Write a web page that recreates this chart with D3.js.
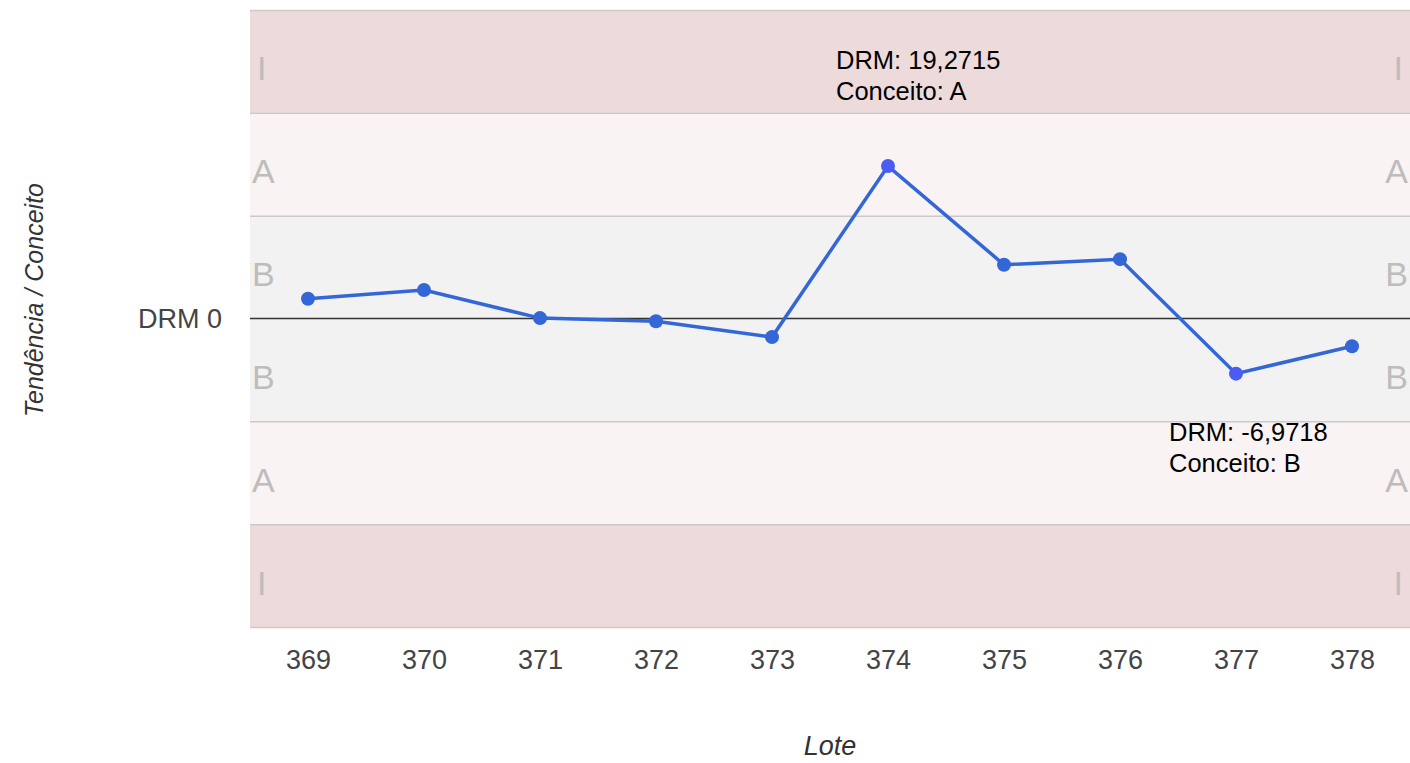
<!DOCTYPE html>
<html>
<head>
<meta charset="utf-8">
<script src="https://d3js.org/d3.v7.min.js"></script>
<style>
    body { margin: 0; background: #fff; }
    svg { font-family: 'Liberation Sans', Arial, sans-serif; }
</style>
</head>
<body>
<svg id="chart" width="1410" height="763"></svg>
<script>
// lots and DRM values
const lotes = ['369', '370', '371', '372', '373', '374', '375', '376', '377', '378'];
const drm = [2.5, 3.6, 0.05, -0.35, -2.35, 19.2715, 6.8, 7.5, -6.9718, -3.5];
const highlighted = ['374', '377'];

// concept bands, top to bottom
const bandNames = ['I', 'A', 'B', 'B', 'A', 'I'];
const bandEdges = [39, 26, 13, 0, -13, -26, -39];
const bandFill = { I: '#eddadb', A: '#f9f3f3', B: '#f2f2f2' };

const notes = [
    { lote: '374', lines: ['DRM: 19,2715', 'Conceito: A'], dx: -52, dy: -97 },
    { lote: '377', lines: ['DRM: -6,9718', 'Conceito: B'], dx: -67, dy: 67 },
];

let config = {
    left: 250,
    right: 1410,
    top: 10,
    bottom: 627,
}

const svg = d3.select('#chart');

const x = d3.scalePoint()
    .domain(lotes)
    .range([config.left, config.right])
    .padding(0.5);

const y = d3.scaleLinear()
    .domain([bandEdges[0], bandEdges[bandEdges.length - 1]])
    .range([config.top, config.bottom]);

// bands
const bands = bandNames.map((n, i) => ({ name: n, hi: bandEdges[i], lo: bandEdges[i + 1] }));

svg.append('g').selectAll('rect')
    .data(bands)
    .join('rect')
    .attr('x', config.left)
    .attr('width', config.right - config.left)
    .attr('y', d => y(d.hi))
    .attr('height', d => y(d.lo) - y(d.hi))
    .attr('fill', d => bandFill[d.name]);

svg.append('g').selectAll('line')
    .data(bandEdges.filter(v => v !== 0))
    .join('line')
    .attr('x1', config.left)
    .attr('x2', config.right)
    .attr('y1', d => y(d) + 0.5)
    .attr('y2', d => y(d) + 0.5)
    .attr('stroke', '#cdc8c9')
    .attr('stroke-width', 1.5);

// band letters on both sides ("I" sits a little inward, like the original)
const inset = d => d.name === 'I' ? 7 : 2;
const letters = svg.append('g')
    .attr('font-size', 34)
    .attr('fill', '#bdbdbd');
letters.selectAll('text.l')
    .data(bands)
    .join('text')
    .attr('class', 'l')
    .attr('x', d => config.left + inset(d))
    .attr('y', d => (y(d.hi) + y(d.lo)) / 2 + 19)
    .text(d => d.name);
letters.selectAll('text.r')
    .data(bands)
    .join('text')
    .attr('class', 'r')
    .attr('x', d => config.right - inset(d))
    .attr('text-anchor', 'end')
    .attr('y', d => (y(d.hi) + y(d.lo)) / 2 + 19)
    .text(d => d.name);

// zero line
svg.append('line')
    .attr('x1', config.left)
    .attr('x2', config.right)
    .attr('y1', y(0))
    .attr('y2', y(0))
    .attr('stroke', '#333')
    .attr('stroke-width', 1.5);

// y axis: single tick at 0
const yAxis = d3.axisLeft(y)
    .tickValues([0])
    .tickFormat(() => 'DRM 0')
    .tickSize(0)
    .tickPadding(28);
svg.append('g')
    .attr('transform', 'translate(' + config.left + ',0)')
    .call(yAxis)
    .call(g => g.select('.domain').remove())
    .call(g => g.selectAll('text')
        .attr('font-size', 27)
        .attr('font-family', "'Liberation Sans', Arial, sans-serif")
        .attr('fill', '#444'));

// x axis
const xAxis = d3.axisBottom(x).tickSize(0).tickPadding(23);
svg.append('g')
    .attr('transform', 'translate(0,' + config.bottom + ')')
    .call(xAxis)
    .call(g => g.select('.domain').remove())
    .call(g => g.selectAll('text')
        .attr('font-size', 27)
        .attr('font-family', "'Liberation Sans', Arial, sans-serif")
        .attr('fill', '#444'));

// axis titles
svg.append('text')
    .attr('x', (config.left + config.right) / 2)
    .attr('y', 755)
    .attr('text-anchor', 'middle')
    .attr('font-size', 27)
    .attr('font-style', 'italic')
    .attr('fill', '#333')
    .text('Lote');

svg.append('text')
    .attr('transform', 'translate(43,' + 300 + ') rotate(-90)')
    .attr('text-anchor', 'middle')
    .attr('font-size', 25)
    .attr('font-style', 'italic')
    .attr('fill', '#333')
    .text('Tendência / Conceito');

// series
const data = lotes.map((l, i) => ({ lote: l, v: drm[i] }));

svg.append('path')
    .datum(data)
    .attr('fill', 'none')
    .attr('stroke', '#3366d6')
    .attr('stroke-width', 3.5)
    .attr('d', d3.line()
        .x(d => x(d.lote))
        .y(d => y(d.v)));

svg.append('g').selectAll('circle')
    .data(data)
    .join('circle')
    .attr('cx', d => x(d.lote))
    .attr('cy', d => y(d.v))
    .attr('r', 7)
    .attr('fill', d => highlighted.includes(d.lote) ? '#4a5cf2' : '#3366d6');

// annotations
const ann = svg.append('g')
    .attr('font-size', 25.5)
    .attr('fill', '#000');
notes.forEach(n => {
    const i = lotes.indexOf(n.lote);
    const t = ann.append('text')
        .attr('x', x(n.lote) + n.dx)
        .attr('y', y(drm[i]) + n.dy);
    n.lines.forEach((s, k) => {
        t.append('tspan')
            .attr('x', x(n.lote) + n.dx)
            .attr('dy', k === 0 ? 0 : 31)
            .text(s);
    });
});
</script>
</body>
</html>
